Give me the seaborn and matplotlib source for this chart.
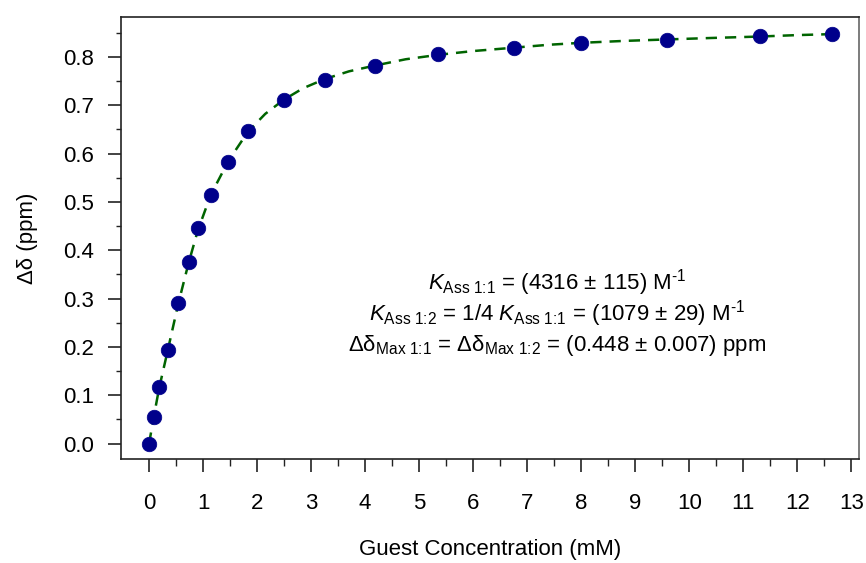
import matplotlib
matplotlib.use('Agg')
import matplotlib.pyplot as plt
import seaborn as sns
import pandas as pd

# Données (titrage RMN)
conc = [0.0, 0.09, 0.185, 0.35, 0.54, 0.73, 0.90, 1.14, 1.47, 1.83,
        2.49, 3.25, 4.18, 5.34, 6.76, 8.00, 9.59, 11.30, 12.64]
delta = [0.000, 0.055, 0.116, 0.193, 0.290, 0.375, 0.445, 0.514, 0.583, 0.646,
         0.710, 0.753, 0.782, 0.805, 0.819, 0.829, 0.835, 0.843, 0.848]

# Courbe ajustée
fit_conc = [0.0, 0.09, 0.185, 0.35, 0.54, 0.73, 0.90, 1.14, 1.47, 1.83, 2.15,
            2.49, 2.85, 3.25, 3.70, 4.18, 4.75, 5.34, 6.0, 6.76, 7.4, 8.00,
            8.8, 9.59, 10.4, 11.30, 12.0, 12.64]
fit_delta = [0.000, 0.057, 0.114, 0.195, 0.289, 0.373, 0.440, 0.514, 0.585, 0.645, 0.682,
             0.711, 0.735, 0.754, 0.770, 0.782, 0.795, 0.804, 0.812, 0.819, 0.825, 0.829,
             0.833, 0.836, 0.839, 0.842, 0.845, 0.847]

data = pd.DataFrame({'conc': conc, 'delta': delta})
fit = pd.DataFrame({'conc': fit_conc, 'delta': fit_delta})

sns.set_style('ticks')
plt.rcParams['font.family'] = ['Liberation Sans', 'DejaVu Sans']
plt.rcParams['mathtext.fontset'] = 'custom'
plt.rcParams['mathtext.rm'] = 'Liberation Sans'
plt.rcParams['mathtext.it'] = 'Liberation Sans:italic'
plt.rcParams['text.color'] = 'black'
plt.rcParams['axes.labelcolor'] = 'black'
plt.rcParams['xtick.color'] = 'black'
plt.rcParams['ytick.color'] = 'black'

fig = plt.figure(figsize=(8.66, 5.63), dpi=100)
ax = fig.add_axes([0.1397, 0.1847, 0.8522, 0.7856])

# Courbe ajustée en pointillés puis points expérimentaux
sns.lineplot(data=fit, x='conc', y='delta', ax=ax, color='#006400',
             linewidth=1.8, dashes=False, sort=False)
ax.lines[0].set_dashes((4.5, 3.2))
sns.scatterplot(data=data, x='conc', y='delta', ax=ax, color='#00008B',
                s=110, edgecolor='#00008B', linewidth=0.5, zorder=3)

ax.set_xlim(-0.52, 13.14)
ax.set_ylim(-0.032, 0.883)

ax.set_yticks([0.0, 0.1, 0.2, 0.3, 0.4, 0.5, 0.6, 0.7, 0.8])
ax.set_yticks([0.05, 0.15, 0.25, 0.35, 0.45, 0.55, 0.65, 0.75, 0.85], minor=True)
ax.set_xticks([i for i in range(14)])
ax.set_xticks([i + 0.5 for i in range(13)], minor=True)

ax.tick_params(axis='both', which='major', labelsize=16, length=9.5, width=1.2,
               color='#222222')
ax.tick_params(axis='x', which='major', pad=15)
ax.tick_params(axis='y', which='major', pad=10)
ax.tick_params(axis='x', which='minor', length=5, width=1.0, color='#222222')
ax.tick_params(axis='y', which='minor', length=3.5, width=1.0, color='#222222')

for side in ['top', 'right', 'bottom', 'left']:
    ax.spines[side].set_visible(True)
    ax.spines[side].set_linewidth(1.2)
    ax.spines[side].set_color('#222222')
ax.spines['right'].set_color('#666666')

ax.set_xlabel('Guest Concentration (mM)', fontsize=16)
ax.set_ylabel('Δδ (ppm)', fontsize=16)
ax.xaxis.set_label_coords(0.5, -0.18)
ax.yaxis.set_label_coords(-0.113, 0.5)

# Paramètres d'association
lignes = [
    r'$K_{\text{Ass 1:1}}$ = (4316 ± 115) M$^{\text{-1}}$',
    r'$K_{\text{Ass 1:2}}$ = 1/4 $K_{\text{Ass 1:1}}$ = (1079 ± 29) M$^{\text{-1}}$',
    r'Δδ$_{\text{Max 1:1}}$ = Δδ$_{\text{Max 1:2}}$ = (0.448 ± 0.007) ppm',
]
for i, txt in enumerate(lignes):
    ax.text(0.591, 0.40 - i * 0.072, txt, transform=ax.transAxes,
            ha='center', va='center', fontsize=16)

fig.savefig('out.png', dpi=100)
